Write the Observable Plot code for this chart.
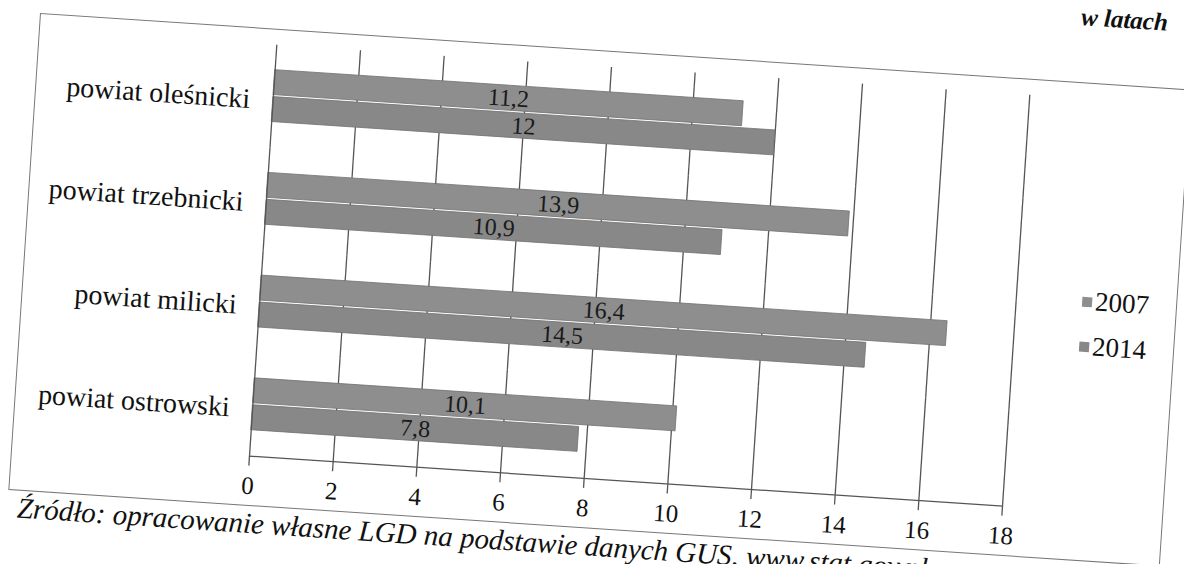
<!DOCTYPE html>
<html>
<head>
<meta charset="utf-8">
<script src="https://cdn.jsdelivr.net/npm/d3@7"></script>
<script src="https://cdn.jsdelivr.net/npm/@observablehq/plot@0.6"></script>
<style>
  html, body { margin: 0; padding: 0; background: #fff; overflow: hidden; width: 1184px; height: 564px; }
  #rot { position: absolute; left: 40px; top: 13px; width: 1154px; transform-origin: 0 0; transform: rotate(3.8deg); font-family: "Liberation Serif", "Times New Roman", Times, "DejaVu Serif", Tinos, "Noto Serif", "Nimbus Roman", FreeSerif, serif; }
  #frame { position: relative; width: 1154px; height: 478px; border: 1.5px solid #777; box-sizing: border-box; background: #fff; }
  #chart { position: absolute; left: -1.5px; top: -1.5px; }
  #chart svg { overflow: visible; }
  #legend { position: absolute; left: 1058px; top: 195px; font-size: 27px; color: #111; line-height: 45px; }
  #legend .item { display: flex; align-items: center; }
  #legend .sw { width: 10px; height: 10px; margin-right: 3px; display: inline-block; }
  #caption { position: absolute; left: 10px; top: 479px; white-space: nowrap; font-style: italic; font-size: 29px; color: #111; }
  #title { position: absolute; right: 28px; top: -78px; line-height: 1.05; white-space: nowrap; font-style: italic; font-weight: bold; font-size: 25px; color: #111; }
</style>
</head>
<body>
<div id="rot">
  <div id="title"></div>
  <div id="frame">
    <div id="chart"></div>
    <div id="legend"></div>
  </div>
  <div id="caption"></div>
</div>
<script>
const counties = ["powiat oleśnicki", "powiat trzebnicki", "powiat milicki", "powiat ostrowski"];
const years = ["2007", "2014"];
const values2007 = [11.2, 13.9, 16.4, 10.1];
const values2014 = [12, 10.9, 14.5, 7.8];
const xTicks = [0, 2, 4, 6, 8, 10, 12, 14, 16, 18];
const seriesColors = ["#8e8e8e", "#888888"];
const titleText = "w latach";
const captionText = "Źródło: opracowanie własne LGD na podstawie danych GUS, www.stat.gov.pl";

const data = counties.flatMap((c, i) => [
  {county: c, year: years[0], value: values2007[i]},
  {county: c, year: years[1], value: values2014[i]}
]);
const fmt = v => String(v).replace(".", ",");
const serif = "'Liberation Serif', 'Times New Roman', Times, 'DejaVu Serif', Tinos, 'Noto Serif', 'Nimbus Roman', FreeSerif, serif";

const chart = Plot.plot({
  width: 1154,
  height: 478,
  marginLeft: 238,
  marginRight: 161,
  marginTop: 16,
  marginBottom: 50,
  style: {fontFamily: serif, fontSize: "24px", color: "#111", background: "transparent", overflow: "visible"},
  x: {domain: [0, 18]},
  y: {domain: years, paddingInner: 0.07, paddingOuter: 0.875, axis: null},
  fy: {domain: counties, padding: 0},
  color: {domain: years, range: seriesColors},
  marks: [
    Plot.gridX(xTicks.filter(t => t > 0), {stroke: "#555", strokeOpacity: 1, strokeWidth: 1.3}),
    Plot.barX(data, {x: "value", y: "year", fy: "county", fill: "year", stroke: "#727272", strokeWidth: 0.8}),
    Plot.text(data, {x: d => d.value / 2, y: "year", fy: "county", text: d => fmt(d.value), fontSize: 24, fill: "#1a1a1a", fontFamily: serif}),
    Plot.ruleX([0], {stroke: "#555", strokeWidth: 1.3}),
    Plot.frame({anchor: "bottom", facetAnchor: "bottom", stroke: "#555", strokeWidth: 1.3}),
    Plot.axisX({ticks: xTicks, tickSize: 10, tickPadding: 10, fontSize: 25, stroke: "#555", strokeWidth: 1.3, fill: "#111", label: null, fontFamily: serif}),
    Plot.axisFy({anchor: "left", tickSize: 0, tickPadding: 23, fontSize: 28, fill: "#111", label: null, dy: 4, fontFamily: serif})
  ]
});
document.getElementById("chart").appendChild(chart);

const legend = document.getElementById("legend");
years.forEach((y, i) => {
  const item = document.createElement("div");
  item.className = "item";
  const sw = document.createElement("span");
  sw.className = "sw";
  sw.style.background = seriesColors[i];
  item.appendChild(sw);
  item.appendChild(document.createTextNode(y));
  legend.appendChild(item);
});
document.getElementById("caption").textContent = captionText;
document.getElementById("title").textContent = titleText;
</script>
</body>
</html>
